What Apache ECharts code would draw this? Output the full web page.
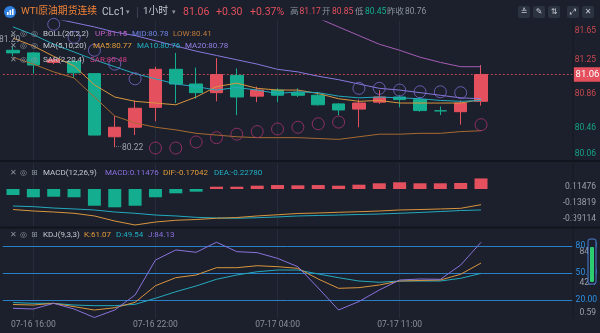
<!DOCTYPE html>
<html>
<head>
<meta charset="utf-8">
<script src="https://cdn.jsdelivr.net/npm/echarts@6.0.0/dist/echarts.min.js"></script>
<style>
html,body{margin:0;padding:0;background:#1b202c;overflow:hidden;}
#chart{width:600px;height:333px;}
</style>
</head>
<body>
<div id="chart"></div>
<script>
// ---------------- data ----------------
const categories = ['07-16 15:00','07-16 16:00','07-16 17:00','07-16 18:00','07-16 19:00','07-16 20:00',
  '07-16 21:00','07-16 22:00','07-16 23:00','07-17 00:00','07-17 01:00','07-17 02:00','07-17 03:00',
  '07-17 04:00','07-17 06:00','07-17 07:00','07-17 08:00','07-17 09:00','07-17 10:00','07-17 11:00',
  '07-17 12:00','07-17 13:00','07-17 14:00','07-17 15:00'];
const emptySlots = ['e1','e2','e3','e4'];
const xTickIdx = [1, 7, 13, 19];
const todayStart = 14;

const opens  = [81.34, 81.31, 81.20, 81.21, 81.07, 80.34, 80.45, 80.68, 81.12, 80.95, 80.85, 81.05, 80.81, 80.88, 80.85, 80.82, 80.72, 80.66, 80.74, 80.80, 80.77, 80.640, 80.63, 80.75];
const closes = [81.31, 81.17, 81.23, 81.08, 80.36, 80.45, 80.67, 81.12, 80.95, 80.85, 81.06, 80.80, 80.88, 80.82, 80.82, 80.71, 80.65, 80.73, 80.80, 80.77, 80.643, 80.640, 80.73, 81.06];
const lows   = [81.27, 81.07, 81.18, 81.02, 80.36, 80.22, 80.36, 80.52, 80.73, 80.78, 80.75, 80.59, 80.74, 80.74, 80.80, 80.70, 80.59, 80.45, 80.72, 80.68, 80.63, 80.59, 80.48, 80.70];
const highs  = [81.38, 81.32, 81.25, 81.23, 81.07, 80.58, 80.76, 81.15, 81.31, 81.14, 81.25, 81.13, 80.92, 80.90, 80.90, 80.86, 80.73, 80.77, 80.88, 80.82, 80.80, 80.69, 80.76, 81.17];
const prevClose = 80.76;
const offscreenHighLabel = '81.29';

const ma5  = [81.48, 81.39, 81.27, 81.16, 80.94, 80.80, 80.75, 80.73, 80.71, 80.80, 80.92, 80.96, 80.90, 80.88, 80.88, 80.84, 80.78, 80.75, 80.76, 80.73, 80.73, 80.73, 80.73, 80.77];
const ma10 = [81.61, 81.52, 81.41, 81.32, 81.23, 81.15, 81.07, 81.01, 80.95, 80.92, 80.88, 80.91, 80.88, 80.84, 80.86, 80.85, 80.81, 80.79, 80.80, 80.79, 80.78, 80.76, 80.75, 80.76];
const ma20 = [null, null, 81.71, 81.66, 81.61, 81.55, 81.51, 81.45, 81.39, 81.33, 81.28, 81.23, 81.18, 81.12, 81.09, 81.04, 81.00, 80.95, 80.90, 80.88, 80.85, 80.82, 80.79, 80.78];
const bollUp  = [null, null, null, null, null, null, null, null, null, null, null, null, null, null, null, 81.71, 81.61, 81.51, 81.41, 81.34, 81.26, 81.20, 81.15, 81.15];
const bollLow = [81.26, 81.18, 81.09, 81.02, 80.80, 80.58, 80.50, 80.45, 80.42, 80.38, 80.36, 80.34, 80.33, 80.33, 80.33, 80.32, 80.31, 80.34, 80.37, 80.37, 80.38, 80.38, 80.40, 80.41];
const sar = [null, null, 81.64, 81.49, 81.34, 81.18, 81.01, 80.21, 80.21, 80.28, 80.33, 80.37, 80.40, 80.43, 80.45, 80.49, 80.51, 80.90, 80.90, 80.88, 80.86, 80.86, 80.85, 80.48];

const macdHist = [-0.065, -0.090, -0.084, -0.090, -0.182, -0.199, -0.182, -0.090, -0.047, -0.029, 0.025, 0.025, 0.036, 0.043, 0.040, 0.043, 0.036, 0.047, 0.062, 0.073, 0.062, 0.062, 0.065, 0.11476];
const dif = [-0.223, -0.239, -0.250, -0.264, -0.293, -0.348, -0.39114, -0.359, -0.340, -0.332, -0.318, -0.310, -0.293, -0.280, -0.266, -0.261, -0.253, -0.247, -0.239, -0.228, -0.223, -0.217, -0.210, -0.17042];
const dea = [-0.185, -0.192, -0.207, -0.217, -0.228, -0.250, -0.264, -0.283, -0.293, -0.308, -0.315, -0.318, -0.312, -0.304, -0.293, -0.288, -0.283, -0.277, -0.272, -0.264, -0.255, -0.245, -0.234, -0.22780];

const kVals = [15.0, 14.4, 16.3, 12.6, 8.9, 11.4, 17.4, 35.9, 44.8, 47.8, 55.9, 55.9, 58.1, 57.0, 55.2, 43.3, 33.0, 33.7, 36.7, 41.1, 41.7, 42.2, 48.6, 61.07];
const dVals = [17.2, 16.3, 16.3, 14.4, 13.7, 13.7, 15.2, 21.9, 29.2, 35.6, 43.0, 47.8, 51.4, 53.3, 53.3, 48.9, 44.8, 41.1, 39.7, 41.1, 41.1, 41.1, 44.1, 49.54];
const jVals = [10.8, 10.0, 16.3, 10.0, 0.59, 8.9, 25.6, 64.4, 75.6, 73.0, 84.2, 73.7, 72.6, 66.3, 57.0, 33.3, 8.9, 18.3, 31.1, 42.2, 43.3, 43.0, 58.9, 84.13];

const priceTicks = ['81.65', '81.25', '80.86', '80.46', '80.06'];
const macdTicks = ['0.11476', '-0.13819', '-0.39114'];
const kdjTicks = ['84.2', '42.4', '0.59'];
const kdjLevels = [80, 50, 20];
const kdjLevelLabels = ['80.00', '50.00', '20.00'];

// ---------------- style ----------------
const FF = 'Roboto, "Noto Sans CJK SC", sans-serif';
const BG = '#1b202c';
const UPC = '#e5505e';
const DNC = '#14ad8f';
const C_MA5 = '#d9953e', C_MA10 = '#25a9bd', C_MA20 = '#8877dc', C_UP = '#a65cb6', C_LOW = '#a86a30';
const C_SAR_HI = '#7b68cc', C_SAR_LO = '#a8336f';
const GRIDV = '#262d3a';
const TXT = '#c3c7cf', GRAY = '#8e949e';

const n = categories.length;
const xData = categories.concat(emptySlots);
const left = 2.83, right = 27.4;

// price axis mapping (px): y = 74.5 + (last - v) * 86.5, panel 21..160
const pxPerUnit = 86.5, lastY = 74.5, lastPrice = closes[n - 1];
const pMax = lastPrice + (lastY - 21) / pxPerUnit;
const pMin = lastPrice - (160 - lastY) / pxPerUnit;
// macd: y = 189 - v*92 ; panel 163..226
const mMax = (189 - 163) / 92, mMin = (189 - 226) / 92;
// kdj: y = 318 - v*0.9 ; panel 229..318
const kMax = (318 - 229) / 0.9, kMin = 0;

const vLines = xTickIdx.map(i => ({ xAxis: xData[i], lineStyle: { color: GRIDV, type: 'solid', width: 1 }, label: { show: false } }));

function lblAxis(g, labels, clsFor) {
  const m = labels.length;
  return {
    type: 'value', gridIndex: g, min: 0, max: m - 1, interval: 1, position: 'left',
    axisLine: { show: false }, axisTick: { show: false }, splitLine: { show: false },
    axisLabel: {
      margin: 1, showMinLabel: true, showMaxLabel: true,
      formatter: v => { const s = labels[m - 1 - Math.round(v)]; return s === undefined ? '' : '{' + clsFor(s) + '|' + s + '}'; },
      rich: {
        r: { color: '#c8474f', fontSize: 8.5, fontFamily: FF },
        g: { color: '#16a085', fontSize: 8.5, fontFamily: FF },
        n: { color: '#9aa0a9', fontSize: 8.5, fontFamily: FF }
      }
    }
  };
}
const priceCls = s => (parseFloat(s) > prevClose ? 'r' : 'g');

function lineS(data, color, gi, z) {
  return { type: 'line', xAxisIndex: gi, yAxisIndex: gi, data: data, symbol: 'none', silent: true,
    lineStyle: { width: 1, color: color }, itemStyle: { color: color }, z: z || 3 };
}

// ---------------- header & legends ----------------
const todayHigh = Math.max(...highs.slice(todayStart));
const todayLow = Math.min(...lows.slice(todayStart));
const todayOpen = opens[todayStart];
const chg = lastPrice - prevClose;
const pct = chg / prevClose * 100;
const fmt = (v, d) => (v > 0 ? '+' : '') + v.toFixed(d);

function T(x, y, s, color, size, fam, align, z) {
  return { type: 'text', x: x, y: y, z: z || 100, silent: true,
    style: { text: s, fill: color, fontSize: size || 8, fontFamily: fam || FF, align: align || 'left', verticalAlign: 'middle' } };
}
const g = [];
// header
g.push({ type: 'circle', shape: { cx: 10, cy: 12, r: 6 }, style: { fill: '#2f7fe0' }, z: 100 });
[[7, 2, 3], [9.5, 4, 5], [12, 1, 6]].forEach(b => g.push({ type: 'rect', shape: { x: b[0], y: 15 - b[2], width: 1.6, height: b[2] }, style: { fill: '#fff' }, z: 101 }));
g.push(T(21, 12, 'WTI原油期货连续', '#ef8137', 9.8));
g.push(T(102, 12, 'CLc1', TXT, 10));
g.push(T(126, 12, '▾', GRAY, 7, 'DejaVu Sans'));
g.push({ type: 'rect', shape: { x: 137, y: 7, width: 1, height: 11 }, style: { fill: '#3a4150' }, z: 100 });
g.push(T(143, 12, '1小时', TXT, 9.8));
g.push(T(172, 12, '▾', GRAY, 7, 'DejaVu Sans'));
g.push(T(183, 12, lastPrice.toFixed(2), UPC, 10.5));
g.push(T(216, 12, fmt(chg, 2), UPC, 10.5));
g.push(T(250, 12, fmt(pct, 2) + '%', UPC, 10.5));
g.push(T(290, 12, '高', GRAY, 8.5));
g.push(T(299.5, 12, todayHigh.toFixed(2), UPC, 8.5));
g.push(T(322, 12, '开', GRAY, 8.5));
g.push(T(332, 12, todayOpen.toFixed(2), UPC, 8.5));
g.push(T(355, 12, '低', GRAY, 8.5));
g.push(T(365, 12, todayLow.toFixed(2), DNC, 8.5));
g.push(T(387, 12, '昨收', GRAY, 8.5));
g.push(T(405, 12, prevClose.toFixed(2), GRAY, 8.5));
// right-top buttons
const btns = [[518, '≙'], [533, '✎'], [548, '⇅'], [567, '⤢'], [582, '✕']];
btns.forEach(b => {
  g.push({ type: 'rect', shape: { x: b[0], y: 6, width: 12, height: 12, r: 2 }, style: { fill: '#2b3240' }, z: 100 });
  g.push(T(b[0] + 6, 12, b[1], '#c9ccd3', 8, 'DejaVu Sans', 'center'));
});
// off-screen high marker (partially hidden at the left edge)
g.push(T(-1, 40, offscreenHighLabel, '#9ca2ac', 8.5, FF, 'left', 90));
// panel legends
function icons(y, third) {
  g.push(T(10, y, '✕', GRAY, 8, 'DejaVu Sans'));
  g.push(T(20, y, '◎', GRAY, 8, 'DejaVu Sans'));
  g.push(T(31, y, third, GRAY, 8, 'DejaVu Sans'));
}
const L = n - 1;
icons(33.5, '◎');
g.push(T(43, 33.5, 'BOLL(20,2,2)', TXT, 8));
g.push(T(95, 33.5, 'UP:' + bollUp[L].toFixed(2), '#c060c8', 8));
g.push(T(132, 33.5, 'MID:' + ma20[L].toFixed(2), '#6f82e6', 8));
g.push(T(173, 33.5, 'LOW:' + bollLow[L].toFixed(2), '#c07a3c', 8));
icons(46, '◎');
g.push(T(43, 46, 'MA(5,10,20)', TXT, 8));
g.push(T(93, 46, 'MA5:' + ma5[L].toFixed(2), '#e39b3a', 8));
g.push(T(137, 46, 'MA10:' + ma10[L].toFixed(2), '#22b0c4', 8));
g.push(T(185, 46, 'MA20:' + ma20[L].toFixed(2), '#9680e6', 8));
icons(60, '◎');
g.push(T(43, 60, 'SAR(2,20,4)', TXT, 8));
g.push(T(90, 60, 'SAR:' + sar[L].toFixed(2), '#d23f87', 8));
icons(172.5, '⊞');
g.push(T(43, 172.5, 'MACD(12,26,9)', TXT, 8));
g.push(T(105, 172.5, 'MACD:' + macdHist[L].toFixed(5), '#8c70e0', 8));
g.push(T(163, 172.5, 'DIF:' + dif[L].toFixed(5), '#e39b3a', 8));
g.push(T(214, 172.5, 'DEA:' + dea[L].toFixed(5), '#22b0c4', 8));
icons(235, '⊞');
g.push(T(43, 235, 'KDJ(9,3,3)', TXT, 8));
g.push(T(84, 235, 'K:' + kVals[L].toFixed(2), '#e39b3a', 8));
g.push(T(116, 235, 'D:' + dVals[L].toFixed(2), '#22b0c4', 8));
g.push(T(148, 235, 'J:' + jVals[L].toFixed(2), '#8c70e0', 8));
// separators / borders
g.push({ type: 'rect', shape: { x: 0, y: 160, width: 600, height: 2 }, style: { fill: '#11151d' }, z: 50 });
g.push({ type: 'rect', shape: { x: 0, y: 226.5, width: 600, height: 2 }, style: { fill: '#11151d' }, z: 50 });
g.push({ type: 'rect', shape: { x: 572.6, y: 21, width: 1, height: 297 }, style: { fill: '#151922' }, z: 50 });
// KDJ slider
g.push({ type: 'rect', shape: { x: 588, y: 239, width: 8, height: 45, r: 2 }, style: { fill: '#1b2030', stroke: '#4d7fd6', lineWidth: 1 }, z: 110 });
g.push({ type: 'rect', shape: { x: 590, y: 247, width: 4, height: 35, r: 1 }, style: { fill: '#2ecc71' }, z: 111 });

// ---------------- option ----------------
const option = {
  backgroundColor: BG,
  animation: false,
  textStyle: { fontFamily: FF },
  grid: [
    { left: left, right: right, top: 21, height: 139 },
    { left: left, right: right, top: 163, height: 63 },
    { left: left, right: right, top: 229, height: 89 },
    { left: 597, width: 1, top: 60, height: 68.3 },
    { left: 597, width: 1, top: 31, height: 123.3 },
    { left: 597, width: 1, top: 186.7, height: 32.6 },
    { left: 597, width: 1, top: 251.7, height: 61.6 }
  ],
  xAxis: [0, 1, 2].map(gi => ({
    type: 'category', gridIndex: gi, data: xData, boundaryGap: true,
    axisLine: { show: false }, axisTick: { show: false }, splitLine: { show: false },
    axisLabel: { show: gi === 2, interval: (i) => xTickIdx.indexOf(i) >= 0, color: '#8a909a', fontSize: 8.5, margin: 3, fontFamily: FF }
  })).concat([3, 4, 5, 6].map(gi => ({ type: 'value', gridIndex: gi, show: false, min: 0, max: 1 }))),
  yAxis: [
    { type: 'value', gridIndex: 0, min: pMin, max: pMax, show: false },
    { type: 'value', gridIndex: 1, min: mMin, max: mMax, show: false },
    { type: 'value', gridIndex: 2, min: kMin, max: kMax, show: false },
    lblAxis(3, priceTicks.slice(1, 4), priceCls),
    lblAxis(4, [priceTicks[0], priceTicks[4]], priceCls),
    lblAxis(5, macdTicks, () => 'n'),
    lblAxis(6, kdjTicks, () => 'n')
  ],
  graphic: g,
  series: [
    {
      type: 'candlestick', xAxisIndex: 0, yAxisIndex: 0, barWidth: 13, silent: true,
      data: categories.map((c, i) => [opens[i], closes[i], lows[i], highs[i]]),
      itemStyle: { color: UPC, color0: DNC, borderColor: UPC, borderColor0: DNC, borderWidth: 1 },
      markLine: {
        silent: true, symbol: ['none', 'none'], z: 1, animation: false, label: { show: false },
        data: vLines.concat([{
          yAxis: lastPrice, lineStyle: { color: '#b8474f', type: [2, 2], width: 1 },
          label: { show: true, position: 'end', formatter: lastPrice.toFixed(2), backgroundColor: UPC, color: '#fff',
            padding: [3, 2, 2, 2], fontSize: 9.5, distance: 1, fontFamily: FF }
        }])
      },
      markPoint: {
        silent: true, animation: false,
        data: [{ type: 'min', valueDim: 'lowest', symbol: 'circle', symbolSize: 1, itemStyle: { color: 'rgba(0,0,0,0)' },
          label: { show: true, position: 'right', distance: 0, offset: [0, 1], color: '#9ca2ac', fontSize: 8.5, fontFamily: FF,
            formatter: p => '···' + Number(p.value).toFixed(2) } }]
      }
    },
    lineS(bollLow, C_LOW, 0),
    lineS(bollUp, C_UP, 0),
    lineS(ma5, C_MA5, 0),
    lineS(ma10, C_MA10, 0),
    lineS(ma20, C_MA20, 0),
    {
      type: 'scatter', xAxisIndex: 0, yAxisIndex: 0, symbol: 'circle', symbolSize: 12, silent: true, z: 4,
      data: sar.map((v, i) => v === null ? null : { value: [i, v], itemStyle: { color: 'rgba(0,0,0,0)', borderColor: v > closes[i] ? C_SAR_HI : C_SAR_LO, borderWidth: 1 } }).filter(Boolean)
    },
    {
      type: 'bar', xAxisIndex: 1, yAxisIndex: 1, barWidth: 13, silent: true,
      data: macdHist.map(v => ({ value: v, itemStyle: { color: v >= 0 ? UPC : DNC } })),
      markLine: { silent: true, symbol: ['none', 'none'], z: 1, animation: false, label: { show: false }, data: vLines }
    },
    lineS(dea, C_MA10, 1),
    lineS(dif, C_MA5, 1),
    Object.assign(lineS(dVals, C_MA10, 2), {
      markLine: {
        silent: true, symbol: ['none', 'none'], z: 1, animation: false, label: { show: false },
        data: vLines.concat(kdjLevels.map((lv, i) => ({
          yAxis: lv, lineStyle: { color: '#2a7fc6', type: 'solid', width: 1 },
          label: { show: true, position: 'end', distance: 3, formatter: kdjLevelLabels[i], color: '#2d8fe2', fontSize: 8.5, fontFamily: FF }
        })))
      }
    }),
    lineS(kVals, C_MA5, 2),
    lineS(jVals, '#8a72dc', 2)
  ]
};

const chart = echarts.init(document.getElementById('chart'), null, { renderer: 'canvas', width: 600, height: 333 });
chart.setOption(option);
</script>
</body>
</html>
